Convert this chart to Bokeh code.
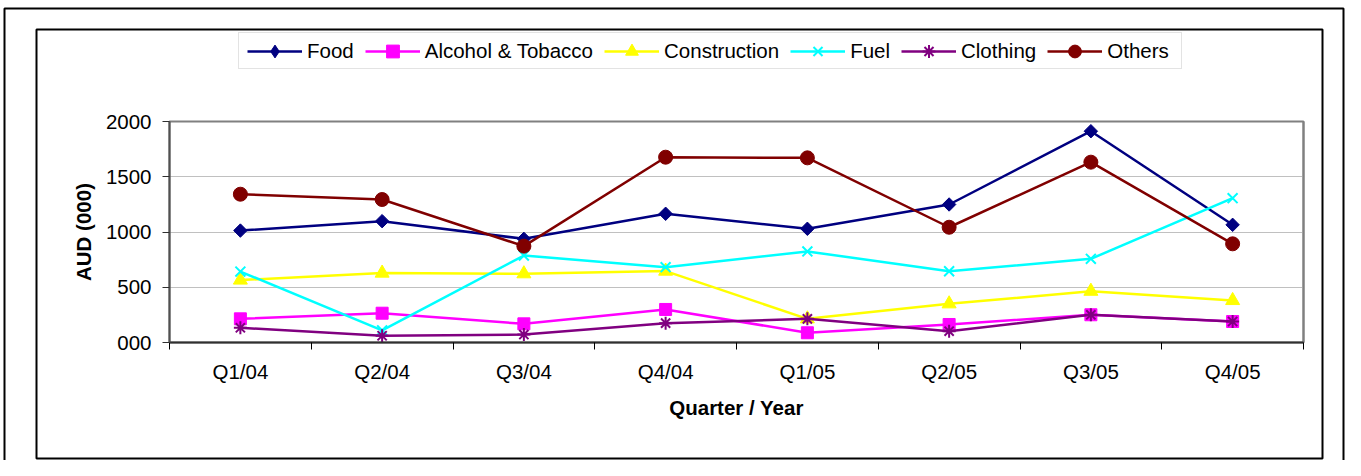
from bokeh.plotting import figure
from bokeh.models import FixedTicker, Range1d, Legend, LegendItem, LinearAxis, BoxAnnotation
from bokeh.embed import file_html
from bokeh.resources import INLINE
import numpy as np

quarters = ["Q1/04", "Q2/04", "Q3/04", "Q4/04", "Q1/05", "Q2/05", "Q3/05", "Q4/05"]
food = [1013, 1098, 938, 1165, 1029, 1249, 1912, 1065]
alcohol_tobacco = [214, 265, 169, 299, 88, 163, 251, 190]
construction = [565, 628, 622, 646, 214, 350, 464, 380]
fuel = [642, 110, 787, 682, 824, 645, 757, 1306]
clothing = [133, 61, 72, 175, 214, 102, 251, 190]
others = [1342, 1294, 872, 1677, 1671, 1043, 1632, 893]
y_ticks = [0, 500, 1000, 1500, 2000]

FONT = "Liberation Sans"
FS = "20.5px"

# canvas geometry (pixels)
W, H = 1345, 460
PL, PR, PT, PB = 169, 1303, 121, 342   # plot area edges
n = len(quarters)
x = list(range(1, n + 1))
y0, y1 = y_ticks[0], y_ticks[-1]


def px2x(px):
    return 0.5 + (px - PL) * n / (PR - PL)


def py2y(py):
    return y0 + (PB - py) * (y1 - y0) / (PB - PT)


p = figure(width=W, height=H, output_backend="svg", toolbar_location=None,
           x_range=Range1d(px2x(0), px2x(W)), y_range=Range1d(py2y(H), py2y(0)),
           min_border=0, min_border_left=0, min_border_right=0, min_border_top=0, min_border_bottom=0)
p.background_fill_color = "white"
p.border_fill_color = "white"
p.outline_line_color = None
p.xgrid.visible = False
p.ygrid.visible = False

# outer chart border and inner plot-area border
p.add_layout(BoxAnnotation(left=px2x(4), right=px2x(W - 2), top=py2y(8), bottom=py2y(H + 30),
                           fill_color=None, line_color="black", line_alpha=1, line_width=2))
p.add_layout(BoxAnnotation(left=px2x(36), right=px2x(1322), top=py2y(29), bottom=py2y(458),
                           fill_color=None, line_color="black", line_alpha=1, line_width=2))
# plot area outline (gray)
p.add_layout(BoxAnnotation(left=x[0] - 0.5, right=x[-1] + 0.5, bottom=y0, top=y1,
                           fill_color=None, line_color="#808080", line_alpha=1, line_width=2,
                           level="underlay"))

# horizontal gridlines, drawn as long inward ticks of a label-less right axis
grid_axis = LinearAxis(fixed_location=x[-1] + 0.5, bounds=(y0, y1),
                       ticker=FixedTicker(ticks=y_ticks[1:-1]),
                       major_tick_in=PR - PL, major_tick_out=0,
                       major_tick_line_color="#c0c0c0", major_tick_line_width=1,
                       minor_tick_line_color=None, axis_line_color="#808080", axis_line_width=2,
                       major_label_overrides={t: "" for t in y_ticks[1:-1]}, level="underlay")
p.add_layout(grid_axis, "right")

series = [
    ("Food", food, "#000080", "square", 9.5, np.pi / 4, 1, "diamond"),
    ("Alcohol & Tobacco", alcohol_tobacco, "#FF00FF", "square", 12, 0, 1, None),
    ("Construction", construction, "#FFFF00", "triangle", 14, 0, 1, None),
    ("Fuel", fuel, "#00FFFF", "x", 14, 0, 2, None),
    ("Clothing", clothing, "#800080", "asterisk", 13, 0, 2, None),
    ("Others", others, "#800000", "circle", 14, 0, 1, None),
]
items = []
for name, vals, color, marker, size, angle, lw, legend_marker in series:
    r1 = p.line(x, vals, line_color=color, line_width=2.5)
    r2 = p.scatter(x, vals, marker=marker, size=size, angle=angle, fill_color=color,
                   line_color=color, line_width=lw)
    if legend_marker is not None:
        # legend swatch only (a single NaN point, nothing drawn in the plot):
        # the legend does not rotate markers
        r2 = p.scatter(x=np.array([np.nan]), y=np.array([np.nan]), marker=legend_marker,
                       size=size, fill_color=color, line_color=color, line_width=lw)
    items.append(LegendItem(label=name, renderers=[r1, r2]))

# x axis
xa = p.xaxis[0]
xa.fixed_location = y0
xa.bounds = (x[0] - 0.5, x[-1] + 0.5)
xa.ticker = FixedTicker(ticks=x, minor_ticks=[v - 0.5 for v in x] + [x[-1] + 0.5])
xa.major_label_overrides = {v: q for v, q in zip(x, quarters)}
xa.major_tick_out = 0
xa.major_tick_in = 0
xa.minor_tick_out = 7
xa.minor_tick_in = 0
xa.minor_tick_line_color = "black"
xa.axis_line_color = "#303030"
xa.axis_line_width = 2
xa.major_label_text_font = FONT
xa.major_label_text_font_size = FS
xa.major_label_text_color = "black"
xa.major_label_standoff = 10
xa.axis_label = "Quarter / Year"
xa.axis_label_text_font = FONT
xa.axis_label_text_font_size = FS
xa.axis_label_text_font_style = "bold"
xa.axis_label_text_color = "black"
xa.axis_label_standoff = 10

# y axis
ya = p.yaxis[0]
ya.fixed_location = x[0] - 0.5
ya.bounds = (y0, y1)
ya.ticker = FixedTicker(ticks=y_ticks)
ya.major_label_overrides = {0: "000"}
ya.major_tick_out = 7
ya.major_tick_in = 0
ya.major_tick_line_color = "#303030"
ya.minor_tick_line_color = None
ya.axis_line_color = "#505050"
ya.axis_line_width = 2
ya.major_label_text_font = FONT
ya.major_label_text_font_size = FS
ya.major_label_text_color = "black"
ya.major_label_standoff = 11
ya.axis_label = "AUD (000)"
ya.axis_label_text_font = FONT
ya.axis_label_text_font_size = FS
ya.axis_label_text_font_style = "bold"
ya.axis_label_text_color = "black"
ya.axis_label_standoff = 8

# legend
lg = Legend(items=items, orientation="horizontal", location=(238, H - 69), margin=0,
            padding=dict(left=8, right=12, top=2, bottom=1), spacing=11,
            glyph_width=55, glyph_height=32, label_height=24,
            label_standoff=5, label_text_font=FONT, label_text_font_size=FS,
            label_text_color="black", border_line_color="#c8c8c8", border_line_width=1,
            background_fill_color="white", background_fill_alpha=1)
p.add_layout(lg)

open("out.html", "w").write(file_html(p, INLINE))
